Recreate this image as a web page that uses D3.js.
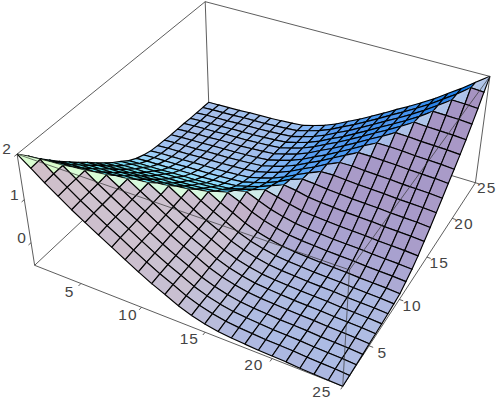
<!DOCTYPE html>
<html>
<head>
<meta charset="utf-8">
<script src="https://cdn.jsdelivr.net/npm/d3@7"></script>
<style>
html,body{margin:0;padding:0;background:#fff}
text{font-family:"Liberation Sans",sans-serif;font-size:15.5px;fill:#444;letter-spacing:1px}
</style>
</head>
<body>
<svg id="chart" width="498" height="404"></svg>
<script>
var xTicks = [5,10,15,20,25];
var yTicks = [5,10,15,20,25];
var zTicks = [0,1,2];
var gridIdx = d3.range(1,26);
// heights, the surface is mirrored on x=y so only x>=y is kept
var zRows = [
  [2.00],
  [1.79,1.81],
  [1.57,1.59,1.60],
  [1.37,1.39,1.40,1.41],
  [1.17,1.19,1.20,1.21,1.23],
  [.99,1.01,1.02,1.03,1.05,1.06],
  [.81,.83,.84,.85,.87,.88,.89],
  [.64,.66,.67,.68,.70,.71,.72,.74],
  [.46,.48,.49,.50,.52,.53,.54,.56,.58],
  [.29,.31,.32,.33,.35,.36,.37,.39,.41,.44],
  [.13,.15,.16,.17,.19,.20,.21,.23,.25,.28,.34],
  [-.01,.01,.02,.03,.05,.06,.07,.09,.11,.14,.22,.28],
  [-.16,-.14,-.13,-.12,-.10,-.09,-.08,-.06,-.04,-.01,.07,.16,.24],
  [-.27,-.25,-.24,-.23,-.21,-.20,-.19,-.17,-.15,-.12,-.04,.05,.17,.28],
  [-.35,-.33,-.32,-.31,-.29,-.28,-.27,-.25,-.23,-.20,-.12,-.03,.09,.24,.34],
  [-.41,-.39,-.38,-.37,-.35,-.34,-.33,-.31,-.29,-.26,-.18,-.09,.03,.18,.32,.44],
  [-.44,-.42,-.41,-.40,-.38,-.37,-.36,-.34,-.32,-.29,-.21,-.12,0,.15,.29,.45,.58],
  [-.46,-.44,-.43,-.42,-.40,-.39,-.38,-.36,-.34,-.31,-.23,-.14,-.02,.13,.27,.43,.59,.74],
  [-.48,-.46,-.45,-.44,-.42,-.41,-.40,-.38,-.36,-.33,-.25,-.16,-.04,.11,.25,.41,.57,.74,.89],
  [-.49,-.47,-.46,-.45,-.43,-.42,-.41,-.39,-.37,-.34,-.26,-.17,-.05,.10,.24,.40,.56,.73,.89,1.06],
  [-.50,-.48,-.47,-.46,-.44,-.43,-.42,-.40,-.38,-.35,-.27,-.18,-.06,.09,.23,.39,.55,.72,.88,1.05,1.23],
  [-.52,-.50,-.49,-.48,-.46,-.45,-.44,-.42,-.40,-.37,-.29,-.20,-.08,.07,.21,.37,.53,.70,.86,1.03,1.21,1.41],
  [-.53,-.51,-.50,-.49,-.47,-.46,-.45,-.43,-.41,-.38,-.30,-.21,-.09,.06,.20,.36,.52,.69,.85,1.02,1.20,1.40,1.60],
  [-.54,-.52,-.51,-.50,-.48,-.47,-.46,-.44,-.42,-.39,-.31,-.22,-.10,.05,.19,.35,.51,.68,.84,1.01,1.19,1.39,1.59,1.81],
  [-.55,-.54,-.53,-.52,-.50,-.49,-.48,-.46,-.44,-.41,-.33,-.24,-.12,.03,.17,.33,.49,.66,.82,.99,1.17,1.37,1.57,1.79,2.00]
];
function zAt(a,b){ return a>=b ? zRows[a][b] : zRows[b][a]; }

var zMin = -.55, zMax = 2;
var xs = d3.scaleLinear().domain([1,25]).range([-.5,.5]);
var ys = d3.scaleLinear().domain([1,25]).range([-.5,.5]);
var zs = d3.scaleLinear().domain([zMin,zMax]).range([-.2,.2]);

// camera at the default view point
var eye = [1.3,-2.4,2];
function dot(a,b){ return a[0]*b[0]+a[1]*b[1]+a[2]*b[2]; }
function cross(a,b){ return [a[1]*b[2]-a[2]*b[1],a[2]*b[0]-a[0]*b[2],a[0]*b[1]-a[1]*b[0]]; }
function unit(a){ var l=Math.sqrt(dot(a,a)); return [a[0]/l,a[1]/l,a[2]/l]; }
function sub(a,b){ return [a[0]-b[0],a[1]-b[1],a[2]-b[2]]; }
var w = unit(eye), r = unit(cross([0,0,1],w)), u = cross(w,r);
var dist = Math.sqrt(dot(eye,eye));
var px = d3.scaleLinear().domain([-.2185,.1978]).range([17,490]);
var py = d3.scaleLinear().domain([.1471,-.1899]).range([2,386]);
function project(p){
  var d = dist-dot(p,w);
  return [px(dot(p,r)/d),py(dot(p,u)/d)];
}
function depth(p){ return dist-dot(p,w); }
function pt(x,y,z){ return [xs(x),ys(y),zs(z)]; }

// red, green and blue lights
var lights = [[unit([1,0,1]),0],[unit([1,1,1]),1],[unit([0,1,1]),2]];
var depthSquash = .268;
function shade(n){
  if (n[2]<0) n = [-n[0],-n[1],-n[2]];
  var v = unit([dot(n,r),dot(n,u),dot(n,w)/depthSquash]);
  var rgb = [0,0,0];
  lights.forEach(function(l){ rgb[l[1]] = Math.max(0,dot(v,l[0]))*255; });
  return d3.rgb(rgb[0],rgb[1],rgb[2]).formatRgb();
}

var svg = d3.select("#chart");
var line = d3.line();
var back = [[[1,1,zMax],[1,25,zMax]],[[1,25,zMax],[25,25,zMax]],[[1,25,zMax],[1,25,zMin]],[[25,25,zMax],[25,25,zMin]],[[1,1,zMin],[1,25,zMin]],[[1,25,zMin],[25,25,zMin]],[[1,1,zMax],[1,1,zMin]],[[1,1,zMin],[25,1,zMin]],[[25,1,zMin],[25,25,zMin]]];
var front = [[[1,1,zMax],[25,1,zMax]],[[25,1,zMax],[25,25,zMax]],[[25,1,zMax],[25,1,zMin]]];
function edgeLine(sel,data,col,wd){
  sel.selectAll(null).data(data).enter().append("path")
    .attr("d",function(d){ return line(d.map(function(q){ return project(pt(q[0],q[1],q[2])); })); })
    .attr("fill","none").attr("stroke",col).attr("stroke-width",wd);
}
edgeLine(svg.append("g"),back,"#333",.8);

function P(i,j){ return pt(gridIdx[i],gridIdx[j],zAt(i,j)); }
var polys = [];
for (var a=0;a<24;a++) for (var b=0;b<24;b++) {
  var p00=P(a,b),p10=P(a+1,b),p11=P(a+1,b+1),p01=P(a,b+1);
  if (a===b) {
    // cells on the crest fold, split so the fold stays sharp, coloured from the first corner
    var col = shade(cross(sub(p10,p00),sub(p01,p00)));
    polys.push({fill:[p00,p10,p11],edge:[p00,p10,p11],color:col});
    polys.push({fill:[p00,p11,p01],edge:[p11,p01,p00],color:col});
  } else {
    polys.push({fill:[p00,p10,p11,p01],edge:[p00,p10,p11,p01,p00],color:shade(cross(sub(p11,p00),sub(p01,p10)))});
  }
}
polys.forEach(function(d){ d.depth = d3.mean(d.fill,depth); });
polys.sort(function(a,b){ return b.depth-a.depth; });
var cell = svg.append("g").selectAll("g").data(polys).enter().append("g");
cell.append("path").attr("d",function(d){ return line(d.fill.map(project))+"Z"; }).attr("fill",function(d){ return d.color; }).attr("stroke",function(d){ return d.color; }).attr("stroke-width",.3);
cell.append("path").attr("d",function(d){ return line(d.edge.map(project)); }).attr("fill","none").attr("stroke","#000").attr("stroke-width",1.15);

edgeLine(svg.append("g"),front,"#333",.7);

var tickG = svg.append("g");
function tick(a,b){
  var s=project(a),e=project(b);
  tickG.append("line").attr("x1",s[0]).attr("y1",s[1]).attr("x2",e[0]).attr("y2",e[1]).attr("stroke","#333").attr("stroke-width",.8);
}
xTicks.forEach(function(v){
  tick(pt(v,1,zMin),[xs(v),-.5-.012,-.2]);
  var q=project([xs(v)-.01-(v-5)*.0015,-.5-.042,-.2]);
  svg.append("text").attr("x",q[0]).attr("y",q[1]+5.5).attr("text-anchor","middle").text(v);
});
yTicks.forEach(function(v){
  tick(pt(25,v,zMin),[.5+.012,ys(v),-.2]);
  var q=project([.5+.045,ys(v),-.2]);
  svg.append("text").attr("x",q[0]-2).attr("y",q[1]+6).attr("text-anchor","middle").text(v);
});
zTicks.forEach(function(v){
  tick(pt(1,1,v),[-.5,-.5-.012,zs(v)]);
  var q=project([-.5,-.5-.06,zs(v)]);
  svg.append("text").attr("x",q[0]+4).attr("y",q[1]-11.5).attr("text-anchor","middle").text(v);
});
</script>
</body>
</html>
